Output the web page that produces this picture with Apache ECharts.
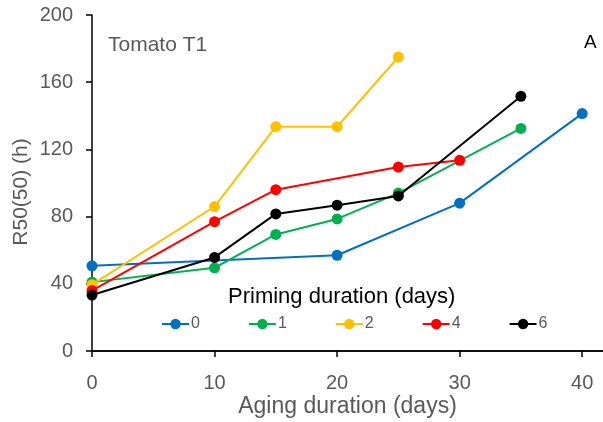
<!DOCTYPE html>
<html><head><meta charset="utf-8">
<script src="https://cdn.jsdelivr.net/npm/echarts@6/dist/echarts.min.js"></script>
<style>html,body{margin:0;padding:0;background:#fff}#c{width:603px;height:422px}</style>
</head><body><div id="c"></div>
<script>
var seriesNames = ['0', '1', '2', '4', '6'];
var seriesColors = ['#0070C0', '#00B050', '#FFC000', '#FF0000', '#000000'];
var agingP0 = [0, 20, 30, 40];
var r50P0 = [50.7, 57, 88, 141.3];
var agingP1 = [0, 10, 15, 20, 25, 35];
var r50P1 = [41, 49.5, 69.4, 78.6, 94, 132.5];
var agingP2 = [0, 10, 15, 20, 25];
var r50P2 = [39.5, 86, 133.5, 133.5, 175];
var agingP4 = [0, 10, 15, 25, 30];
var r50P4 = [36, 77, 96, 109.5, 113.5];
var agingP6 = [0, 10, 15, 20, 25, 35];
var r50P6 = [33.3, 55.7, 81.6, 86.8, 92.3, 151.6];
var xTicks = [0, 10, 20, 30, 40];
var yTicks = [0, 40, 80, 120, 160, 200];

var agings = [agingP0, agingP1, agingP2, agingP4, agingP6];
var r50s = [r50P0, r50P1, r50P2, r50P4, r50P6];
var font = '"Liberation Sans", Arial, sans-serif';
var gray = '#595959';

var chart = echarts.init(document.getElementById('c'));
var series = seriesNames.map(function (n, i) {
  return {
    name: n, type: 'line', symbol: 'circle', symbolSize: 11,
    data: agings[i].map(function (x, j) { return [x, r50s[i][j]]; }),
    lineStyle: { color: seriesColors[i], width: 2 },
    itemStyle: { color: seriesColors[i] },
    emphasis: { disabled: true }, animation: false, z: 2 + i
  };
});
chart.setOption({
  animation: false,
  title: [
    { text: 'Tomato T1', left: 103, top: 30, textStyle: { fontFamily: font, fontSize: 21, fontWeight: 'normal', color: gray } },
    { text: 'A', left: 579, top: 28, textStyle: { fontFamily: font, fontSize: 19, fontWeight: 'normal', color: '#000' } },
    { text: 'Priming duration (days)', left: 223, top: 281, textStyle: { fontFamily: font, fontSize: 22, fontWeight: 'normal', color: '#000' } }
  ],
  legend: {
    data: seriesNames, left: 161, top: 316, orient: 'horizontal', padding: 0,
    itemWidth: 27, itemHeight: 13, itemGap: 48,
    textStyle: { fontFamily: font, fontSize: 16, color: gray, padding: [0, 0, 0, -3] },
    selectedMode: false
  },
  grid: { left: 92, right: 0, top: 15, bottom: 71, containLabel: false, outerBoundsMode: 'none' },
  xAxis: [{
    type: 'value', min: 0, max: 41.7, interval: 10,
    name: 'Aging duration (days)', nameLocation: 'middle', nameGap: 44, nameMoveOverlap: false,
    nameTextStyle: { fontFamily: font, fontSize: 23, color: gray },
    axisLine: { show: true, onZero: false, lineStyle: { color: '#000', width: 1.5 } },
    axisTick: { show: true, length: 6, inside: false, customValues: xTicks, lineStyle: { color: '#000', width: 1.5 } },
    axisLabel: { customValues: xTicks, fontFamily: font, fontSize: 20, color: gray, margin: 22 },
    splitLine: { show: false }
  }, {
    type: 'value', position: 'top', min: 0, max: 41.7,
    axisLine: { show: true, lineStyle: { color: '#000', width: 1.5 } },
    axisTick: { show: false }, axisLabel: { show: false }, splitLine: { show: false }
  }],
  yAxis: {
    type: 'value', min: 0, max: 200, interval: 40,
    axisLine: { show: true, lineStyle: { color: '#000', width: 1.5 } },
    axisTick: { show: true, length: 6, inside: false, lineStyle: { color: '#000', width: 1.5 } },
    axisLabel: { fontFamily: font, fontSize: 20, color: gray, margin: 19 },
    splitLine: { show: false }
  },
  graphic: [{
    type: 'text', x: 21, y: 192, rotation: Math.PI / 2,
    style: { text: 'R50(50) (h)', fontFamily: font, fontSize: 21, fill: gray, align: 'center', verticalAlign: 'middle' }
  }],
  series: series
});
</script></body></html>
